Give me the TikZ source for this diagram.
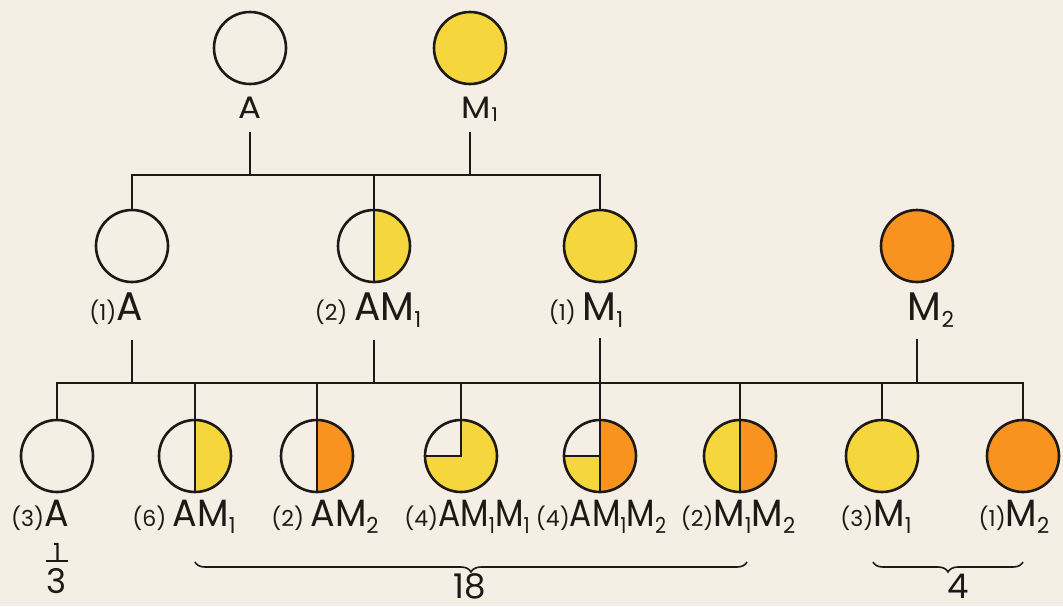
\documentclass[tikz,border=0pt]{standalone}
\usepackage{fontspec}
\setmainfont{Poppins}
\newfontfamily\fA[FakeStretch=1.1]{Poppins}
\newfontfamily\fB[FakeStretch=0.98]{Poppins}
\newfontfamily\fC[FakeStretch=0.87]{Poppins}
\newfontfamily\fD[FakeStretch=0.96]{Poppins}
\usetikzlibrary{decorations.pathreplacing,calc}
\definecolor{bg}{HTML}{F4EEE5}
\definecolor{ylw}{HTML}{F5D63D}
\definecolor{org}{HTML}{F7931E}
\definecolor{ink}{HTML}{1C1917}
\newcommand\lsub[1]{\raisebox{-7pt}{\fontsize{22}{22}\selectfont #1}}
\newcommand\tsub[1]{\raisebox{-3pt}{\fontsize{19}{19}\selectfont #1}}
\newcommand\cnt[1]{{\normalfont\fontsize{22}{22}\selectfont(#1)}}
\tikzset{
 pc/.style={circle,draw=ink,line width=2.6pt,minimum size=72pt,inner sep=0pt},
 labbase/.style={inner sep=0pt,anchor=base,text=ink},
 labA/.style={labbase,font=\fA\fontsize{31}{31}\selectfont},
 labB/.style={labbase,font=\fB\fontsize{40}{40}\selectfont},
 labC/.style={labbase,font=\fC\fontsize{38}{38}\selectfont},
 labD/.style={labbase,font=\fD\fontsize{38}{38}\selectfont},
 link/.style={draw=ink,line width=2.8pt},
 brc/.style={draw=ink,line width=1.6pt,decorate,decoration={brace,mirror,amplitude=10pt}},
 num/.style={font=\fontsize{34}{34}\selectfont,inner sep=0pt,text=ink},
 rhalf/.style={path picture={
   \fill[#1] (path picture bounding box.north) rectangle (path picture bounding box.south east);
   \draw[ink,line width=2pt] (path picture bounding box.north) -- (path picture bounding box.south);}},
 quadA/.style={fill=ylw,path picture={
   \fill[bg] (path picture bounding box.north west) rectangle (path picture bounding box.center);
   \draw[ink,line width=2pt] (path picture bounding box.north) -- (path picture bounding box.center) -- (path picture bounding box.west);}},
 quadB/.style={path picture={
   \fill[org] (path picture bounding box.north) rectangle (path picture bounding box.south east);
   \fill[ylw] (path picture bounding box.west) rectangle (path picture bounding box.south);
   \draw[ink,line width=2pt] (path picture bounding box.north) -- (path picture bounding box.south);
   \draw[ink,line width=2pt] (path picture bounding box.west) -- (path picture bounding box.center);}},
}
\begin{document}
\begin{tikzpicture}[x=1pt,y=-1pt]
\fill[bg] (0,0) rectangle (1063,606);
\useasboundingbox (0,0) rectangle (1063,606);
\coordinate (bar1) at (0,175);
\coordinate (bar2) at (0,383);
% row 1
\node[pc] (p1) at (250,48) {};
\node[pc,fill=ylw] (p2) at (470,48) {};
\node[labA] (lp1) at (250,118) {A};
\node[labA] (lp2) at (480,118) {M\tsub{1}};
% row 2
\node[pc] (q1) at (132,246) {};
\node[pc,rhalf=ylw] (q2) at (374,246) {};
\node[pc,fill=ylw] (q3) at (600,246) {};
\node[pc,fill=org] (q4) at (917,246) {};
\node[labB] (lq1) at (116,320) {\cnt{1}A};
\node[labB] (lq2) at (368,320) {\cnt{2}\,AM\lsub{1}};
\node[labB] (lq3) at (586,320) {\cnt{1}\,M\lsub{1}};
\node[labB] (lq4) at (931,320) {M\lsub{2}};
% row 3
\node[pc] (b1) at (57,456) {};
\node[pc,rhalf=ylw] (b2) at (195,456) {};
\node[pc,rhalf=org] (b3) at (317,456) {};
\node[pc,quadA] (b4) at (461,456) {};
\node[pc,quadB] (b5) at (600,456) {};
\node[pc,fill=ylw,rhalf=org] (b6) at (740,456) {};
\node[pc,fill=ylw] (b7) at (882,456) {};
\node[pc,fill=org] (b8) at (1023,456) {};
\node[labD] (lb1) at (40,526) {\cnt{3}A};
\node[labD] (lb2) at (184,526) {\cnt{6}\,AM\lsub{1}};
\node[labD] (lb3) at (325,526) {\cnt{2}\,AM\lsub{2}};
\node[labC] (lb4) at (467,526) {\cnt{4}AM\lsub{1}M\lsub{1}};
\node[labC] (lb5) at (601,526) {\cnt{4}AM\lsub{1}M\lsub{2}};
\node[labD] (lb6) at (738,526) {\cnt{2}M\lsub{1}M\lsub{2}};
\node[labD] (lb7) at (876,526) {\cnt{3}M\lsub{1}};
\node[labD] (lb8) at (1014,526) {\cnt{1}M\lsub{2}};
% connectors top
\draw[link] (p1.south) ++(0,47) -- (p1 |- bar1);
\draw[link] (p2.south) ++(0,47) -- (p2 |- bar1);
\draw[link] (q1.north) |- (q3 |- bar1) -- (q3.north);
\draw[link] (q2.north) -- (q2 |- bar1);
% connectors middle
\draw[link] (q1.south) ++(0,57) -- (q1 |- bar2);
\draw[link] (q2.south) ++(0,57) -- (q2 |- bar2);
\draw[link] (q4.south) ++(0,56) -- (q4 |- bar2);
\draw[link] (q3.south) ++(0,55) -- (b5.north);
\draw[link] (b1.north) |- (b8 |- bar2) -- (b8.north);
\foreach \n in {b2,b3,b4,b6,b7} \draw[link] (\n.north) -- (\n |- bar2);
% braces and totals
\coordinate (br1a) at (195,562);
\coordinate (br1b) at (747,562);
\coordinate (br2a) at (873,562);
\coordinate (br2b) at (1023,562);
\draw[brc] (br1a) -- (br1b);
\draw[brc] (br2a) -- (br2b);
\node[num] (t18) at (470,586) {18};
\node[num] (t4) at (958,586) {4};
\node[num,font=\fontsize{25}{25}\selectfont] (one) at (57,552) {1};
\node[num] (three) at (57,581) {3};
\draw[ink,line width=2pt] ([xshift=-11pt]one.south) -- ([xshift=11pt]one.south);
\end{tikzpicture}
\end{document}
